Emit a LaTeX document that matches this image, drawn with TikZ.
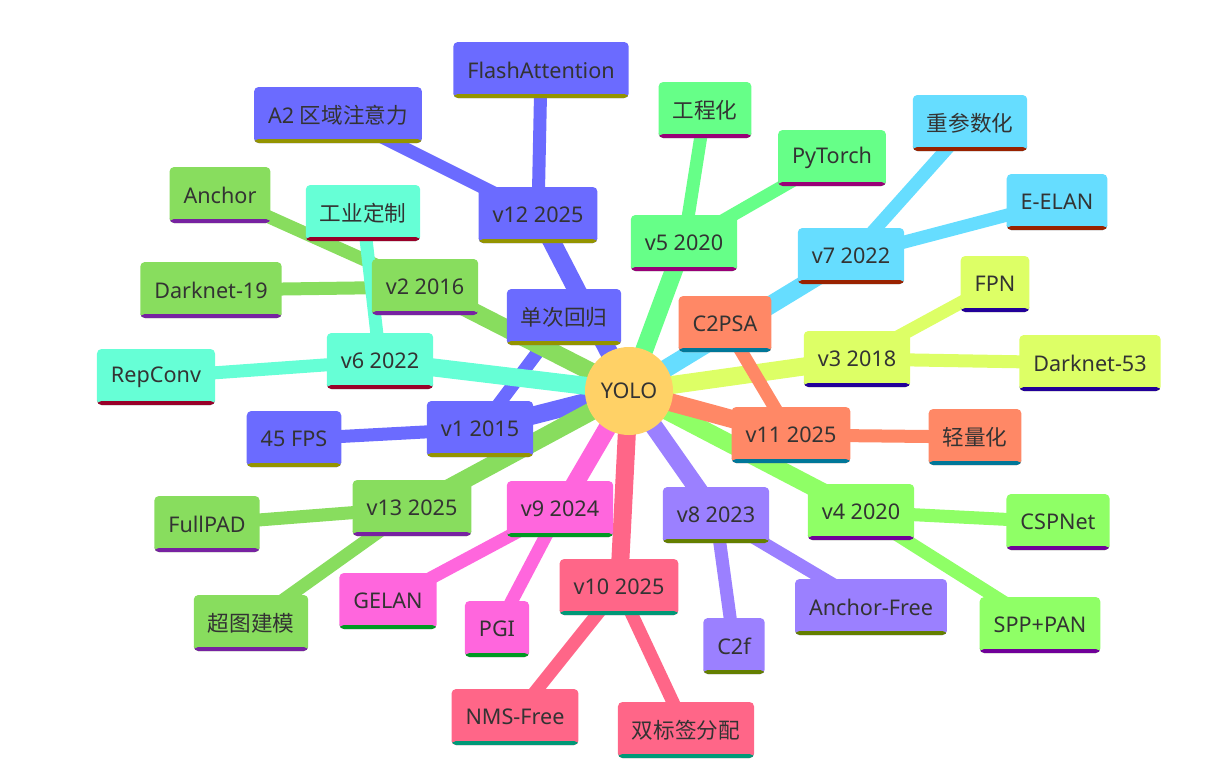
\documentclass[tikz,border=0pt]{standalone}
\usepackage{fontspec}
\setmainfont{Noto Sans}
\newfontfamily\zh{Noto Sans CJK SC}
\usepackage{xcolor}
\usetikzlibrary{backgrounds}

\definecolor{ink}{HTML}{333333}
\definecolor{rootc}{HTML}{FFD166}
\definecolor{blueB}{HTML}{6B6BFF}
\definecolor{grassB}{HTML}{88DD5E}
\definecolor{aquaB}{HTML}{66FFD6}
\definecolor{mintB}{HTML}{66FF88}
\definecolor{skyB}{HTML}{66DDFF}
\definecolor{limeB}{HTML}{DDFF66}
\definecolor{coralB}{HTML}{FF8866}
\definecolor{leafB}{HTML}{8FFF66}
\definecolor{lilacB}{HTML}{9B80FF}
\definecolor{pinkB}{HTML}{FF66DD}
\definecolor{roseB}{HTML}{FF6688}

\begin{document}
\begin{tikzpicture}[
    every node/.style={font=\fontsize{12.3}{15}\selectfont, text=ink},
    topic/.style={fill=#1, rounded corners=0.09cm, minimum height=1.12cm,
                  inner xsep=0.28cm, inner ysep=0pt,
                  path picture={\fill[fill={-#1}] (path picture bounding box.south west)
                      rectangle ([yshift=0.08cm]path picture bounding box.south east);}},
    trunk/.style={line width=0.36cm, draw=#1},
    twig/.style={line width=0.26cm, draw=#1}]

  \path[use as bounding box] (0,0) rectangle (24.56,-15.66);

  \node[circle, fill=rootc, minimum size=1.76cm, inner sep=0pt] (yolo) at (12.58,-7.82) {YOLO};

  % left side
  \node[topic=blueB] (v12) at (10.76,-4.30) {v12 2025};
  \node[topic=blueB] (flash) at (10.82,-1.40) {FlashAttention};
  \node[topic=blueB] (region) at (6.76,-2.30) {A2 {\zh 区域注意力}};

  \node[topic=blueB] (v1) at (9.60,-8.58) {v1 2015};
  \node[topic=blueB] (single) at (11.28,-6.34) {\zh 单次回归};
  \node[topic=blueB] (fps) at (5.88,-8.78) {45 FPS};

  \node[topic=grassB] (v2) at (8.50,-5.74) {v2 2016};
  \node[topic=grassB] (anchor) at (4.40,-3.90) {Anchor};
  \node[topic=grassB] (dark19) at (4.22,-5.80) {Darknet-19};

  \node[topic=grassB] (v13) at (8.24,-10.16) {v13 2025};
  \node[topic=grassB] (fullpad) at (4.14,-10.48) {FullPAD};
  \node[topic=grassB] (hyper) at (5.02,-12.46) {\zh 超图建模};

  \node[topic=aquaB] (v6) at (7.60,-7.22) {v6 2022};
  \node[topic=aquaB] (custom) at (7.26,-4.26) {\zh 工业定制};
  \node[topic=aquaB] (repconv) at (3.12,-7.54) {RepConv};

  % right side
  \node[topic=mintB] (v5) at (13.68,-4.86) {v5 2020};
  \node[topic=mintB] (engin) at (14.10,-2.20) {\zh 工程化};
  \node[topic=mintB] (torch) at (16.64,-3.16) {PyTorch};

  \node[topic=skyB] (v7) at (17.02,-5.12) {v7 2022};
  \node[topic=skyB] (reparam) at (19.40,-2.46) {\zh 重参数化};
  \node[topic=skyB] (eelan) at (21.14,-4.04) {E-ELAN};

  \node[topic=limeB] (v3) at (17.14,-7.18) {v3 2018};
  \node[topic=limeB] (fpn) at (19.90,-5.68) {FPN};
  \node[topic=limeB] (dark53) at (21.80,-7.26) {Darknet-53};

  \node[topic=coralB] (v11) at (15.82,-8.70) {v11 2025};
  \node[topic=coralB] (c2psa) at (14.50,-6.48) {C2PSA};
  \node[topic=coralB] (light) at (19.50,-8.74) {\zh 轻量化};

  \node[topic=leafB] (v4) at (17.22,-10.24) {v4 2020};
  \node[topic=leafB] (cspnet) at (21.16,-10.44) {CSPNet};
  \node[topic=leafB] (spppan) at (20.80,-12.50) {SPP+PAN};

  % bottom
  \node[topic=lilacB] (v8) at (14.32,-10.30) {v8 2023};
  \node[topic=lilacB] (cf) at (14.68,-12.92) {C2f};
  \node[topic=lilacB] (afree) at (17.42,-12.14) {Anchor-Free};

  \node[topic=pinkB] (v9) at (11.20,-10.18) {v9 2024};
  \node[topic=pinkB] (gelan) at (7.76,-12.02) {GELAN};
  \node[topic=pinkB] (pgi) at (9.94,-12.58) {PGI};

  \node[topic=roseB] (v10) at (12.38,-11.74) {v10 2025};
  \node[topic=roseB] (nmsfree) at (10.30,-14.34) {NMS-Free};
  \node[topic=roseB] (dual) at (13.72,-14.60) {\zh 双标签分配};

  \begin{scope}[on background layer]
    \draw[trunk=blueB] (yolo.center) -- (v12.center);
    \draw[twig=blueB] (v12.center) -- (flash.center);
    \draw[twig=blueB] (v12.center) -- (region.center);
    \draw[trunk=blueB] (yolo.center) -- (v1.center);
    \draw[twig=blueB] (v1.center) -- (single.center);
    \draw[twig=blueB] (v1.center) -- (fps.center);

    \draw[trunk=grassB] (yolo.center) -- (v2.center);
    \draw[twig=grassB] (v2.center) -- (anchor.center);
    \draw[twig=grassB] (v2.center) -- (dark19.center);
    \draw[trunk=grassB] (yolo.center) -- (v13.center);
    \draw[twig=grassB] (v13.center) -- (fullpad.center);
    \draw[twig=grassB] (v13.center) -- (hyper.center);

    \draw[trunk=aquaB] (yolo.center) -- (v6.center);
    \draw[twig=aquaB] (v6.center) -- (custom.center);
    \draw[twig=aquaB] (v6.center) -- (repconv.center);

    \draw[trunk=mintB] (yolo.center) -- (v5.center);
    \draw[twig=mintB] (v5.center) -- (engin.center);
    \draw[twig=mintB] (v5.center) -- (torch.center);

    \draw[trunk=skyB] (yolo.center) -- (v7.center);
    \draw[twig=skyB] (v7.center) -- (reparam.center);
    \draw[twig=skyB] (v7.center) -- (eelan.center);

    \draw[trunk=limeB] (yolo.center) -- (v3.center);
    \draw[twig=limeB] (v3.center) -- (fpn.center);
    \draw[twig=limeB] (v3.center) -- (dark53.center);

    \draw[trunk=leafB] (yolo.center) -- (v4.center);
    \draw[twig=leafB] (v4.center) -- (cspnet.center);
    \draw[twig=leafB] (v4.center) -- (spppan.center);

    \draw[trunk=coralB] (yolo.center) -- (v11.center);
    \draw[twig=coralB] (v11.center) -- (c2psa.center);
    \draw[twig=coralB] (v11.center) -- (light.center);

    \draw[trunk=lilacB] (yolo.center) -- (v8.center);
    \draw[twig=lilacB] (v8.center) -- (cf.center);
    \draw[twig=lilacB] (v8.center) -- (afree.center);

    \draw[trunk=pinkB] (yolo.center) -- (v9.center);
    \draw[twig=pinkB] (v9.center) -- (gelan.center);
    \draw[twig=pinkB] (v9.center) -- (pgi.center);

    \draw[trunk=roseB] (yolo.center) -- (v10.center);
    \draw[twig=roseB] (v10.center) -- (nmsfree.center);
    \draw[twig=roseB] (v10.center) -- (dual.center);
  \end{scope}
\end{tikzpicture}
\end{document}
